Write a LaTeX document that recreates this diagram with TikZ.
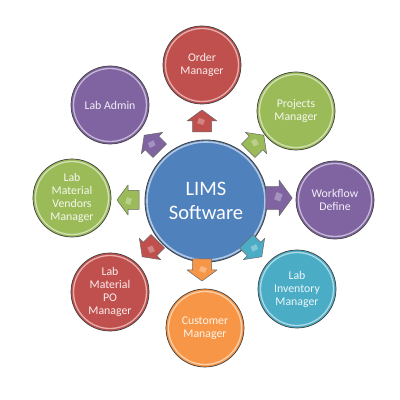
\documentclass[tikz,border=0pt]{standalone}
\usepackage{fontspec}
\setmainfont{Carlito}
\definecolor{ored}{HTML}{C0504D}
\definecolor{ogreen}{HTML}{9BBB59}
\definecolor{opurple}{HTML}{8064A2}
\definecolor{oblue}{HTML}{4F81BD}
\definecolor{oaqua}{HTML}{4BACC6}
\definecolor{oorange}{HTML}{F79646}
\tikzset{
  ball/.style={circle, inner sep=0pt, minimum size=78pt, fill=#1, draw=black!75, line width=0.7pt,
    align=center, text=#1!10!white, font=\fontsize{11.8}{13}\selectfont,
    path picture={\draw[#1!45!white, line width=1.3pt] (path picture bounding box.center) circle (36.5pt);}},
  hub/.style={circle, inner sep=0pt, minimum size=122pt, fill=oblue, draw=black!75, line width=0.8pt,
    align=center, text=white, font=\fontsize{20.5}{23.5}\selectfont,
    path picture={\draw[oblue!45!white, line width=1.6pt] (path picture bounding box.center) circle (59pt);}},
  blockarr/.pic={
    \path[pic actions] (-11,-9.5) -- (0,-9.5) -- (0,-15) -- (11,0) -- (0,15) -- (0,9.5) -- (-11,9.5) -- cycle;
    \fill[white, opacity=0.3] (-4,-1) -- (1,-3) -- (3,3) -- (-2,5) -- cycle;
  },
  blk/.style={fill=#1, draw=black!60, line width=0.5pt, line join=round}
}
\begin{document}
\begin{tikzpicture}[x=1pt,y=1pt]
\useasboundingbox[fill=white] (0,0) rectangle (400,400);
\node[hub] (c) at (206,199) {LIMS\\Software};
\node[ball=ored] (order) at (202,335) {Order\\Manager};
\node[ball=ogreen] (proj) at (296,289) {Projects\\Manager};
\node[ball=opurple] (wf) at (335,200) {Workflow\\Define};
\node[ball=oaqua] (inv) at (297,111) {Lab\\Inventory\\Manager};
\node[ball=oorange] (cust) at (205,72) {Customer\\Manager};
\node[ball=ored] (po) at (110,108) {Lab\\Material\\PO\\Manager};
\node[ball=ogreen] (vend) at (72,202) {Lab\\Material\\Vendors\\Manager};
\node[ball=opurple] (admin) at (110,295) {Lab Admin};
\pic[blk=ored, rotate=90] (a1) at (202,279) {blockarr};
\pic[blk=ogreen, rotate=45] (a2) at (256,257) {blockarr};
\pic[blk=opurple, rotate=0, scale=1.2] (a3) at (279,202) {blockarr};
\pic[blk=oaqua, rotate=-45] (a4) at (254,151) {blockarr};
\pic[blk=oorange, rotate=-90] (a5) at (202,130) {blockarr};
\pic[blk=ored, rotate=-135] (a6) at (150,151) {blockarr};
\pic[blk=ogreen, rotate=180] (a7) at (128,200) {blockarr};
\pic[blk=opurple, rotate=135] (a8) at (152,257) {blockarr};
\end{tikzpicture}
\end{document}
